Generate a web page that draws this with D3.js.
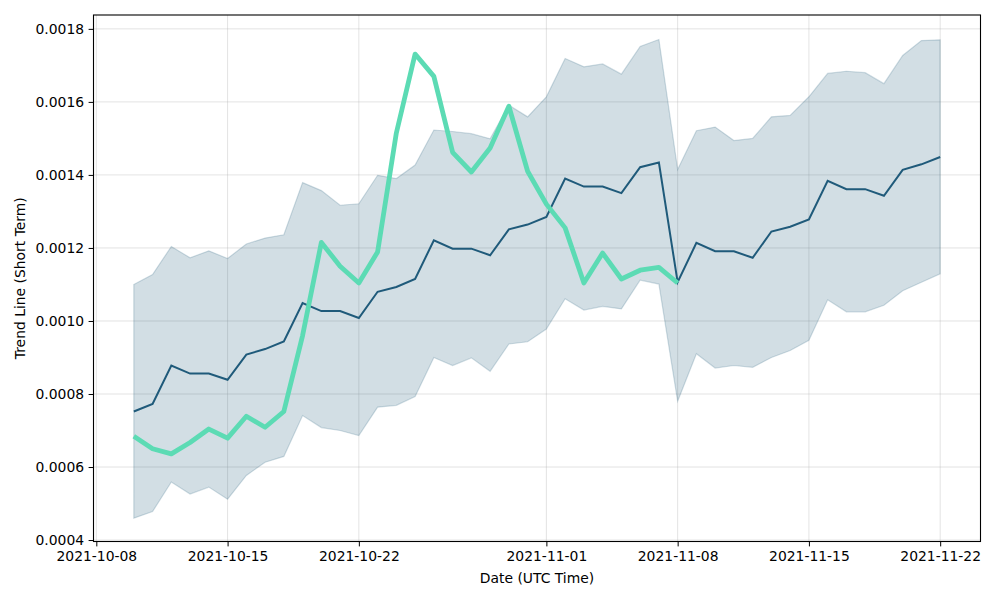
<!DOCTYPE html>
<html>
<head>
<meta charset="utf-8">
<script src="https://cdn.jsdelivr.net/npm/d3@7"></script>
<style>
  body { margin: 0; background: #fff; }
  text { font-family: "DejaVu Sans", sans-serif; }
</style>
</head>
<body>
<div id="chart"></div>
<script>
// daily values from 2021-10-10 to 2021-11-22
const startDate = "2021-10-10";
const trendMid = [
  0.000752, 0.000773, 0.000878, 0.000856, 0.000856, 0.000839, 0.000908, 0.000923, 0.000944, 0.001049,
  0.001027, 0.001027, 0.001008, 0.001080, 0.001093, 0.001115, 0.001221, 0.001198, 0.001198, 0.001180,
  0.001251, 0.001264, 0.001285, 0.001390, 0.001368, 0.001368, 0.001350, 0.001421, 0.001434, 0.001106,
  0.001214, 0.001191, 0.001191, 0.001173, 0.001245, 0.001258, 0.001278, 0.001384, 0.001361, 0.001361,
  0.001343, 0.001414, 0.001429, 0.001449
];
const trendUpper = [
  0.001100, 0.001127, 0.001204, 0.001173, 0.001192, 0.001171, 0.001211, 0.001227, 0.001236, 0.001379,
  0.001357, 0.001317, 0.001321, 0.001399, 0.001390, 0.001427, 0.001523, 0.001519, 0.001513, 0.001499,
  0.001591, 0.001559, 0.001614, 0.001719, 0.001696, 0.001704, 0.001676, 0.001752, 0.001771, 0.001415,
  0.001521, 0.001531, 0.001494, 0.001500, 0.001559, 0.001563, 0.001614, 0.001678, 0.001684, 0.001680,
  0.001650, 0.001727, 0.001768, 0.001770
];
const trendLower = [
  0.000460, 0.000478, 0.000559, 0.000526, 0.000545, 0.000512, 0.000577, 0.000613, 0.000629, 0.000741,
  0.000708, 0.000700, 0.000686, 0.000764, 0.000769, 0.000793, 0.000900, 0.000878, 0.000899, 0.000862,
  0.000937, 0.000943, 0.000978, 0.001061, 0.001030, 0.001040, 0.001033, 0.001112, 0.001101, 0.000780,
  0.000910, 0.000871, 0.000878, 0.000873, 0.000900, 0.000919, 0.000947, 0.001058, 0.001025, 0.001025,
  0.001043, 0.001083, 0.001106, 0.001129
];
// actual price, only until 2021-11-08
const actual = [
  0.000684, 0.000650, 0.000636, 0.000667, 0.000704, 0.000679, 0.000739, 0.000709, 0.000752, 0.000960,
  0.001215, 0.001150, 0.001104, 0.001189, 0.001515, 0.001731, 0.001670, 0.001462, 0.001408, 0.001474,
  0.001588, 0.001410, 0.001320, 0.001255, 0.001104, 0.001186, 0.001115, 0.001139, 0.001147, 0.001104
];
const tickDates = ["2021-10-08", "2021-10-15", "2021-10-22", "2021-11-01", "2021-11-08", "2021-11-15", "2021-11-22"];
const yTicks = [0.0004, 0.0006, 0.0008, 0.0010, 0.0012, 0.0014, 0.0016, 0.0018];

const width = 1000, height = 600;
const margin = {top: 15, right: 19.5, bottom: 58.5, left: 93.5};

const parse = d3.utcParse("%Y-%m-%d");
const t0 = parse(startDate);
const dates = trendMid.map((d, i) => d3.utcDay.offset(t0, i));

const svg = d3.select("#chart").append("svg")
  .attr("width", width)
  .attr("height", height);

// 5% padding on both sides like matplotlib
const span = dates[dates.length - 1] - dates[0];
const x = d3.scaleUtc()
  .domain([new Date(+dates[0] - span * 0.05), new Date(+dates[dates.length - 1] + span * 0.05)])
  .range([margin.left, width - margin.right]);

const y = d3.scaleLinear()
  .domain([0.000396, 0.001838])
  .range([height - margin.bottom, margin.top]);

const g = svg.append("g");

// grid
g.selectAll(".hgrid").data(yTicks).enter().append("line")
  .attr("x1", margin.left).attr("x2", width - margin.right)
  .attr("y1", d => y(d)).attr("y2", d => y(d))
  .attr("stroke", "#b0b0b0").attr("stroke-opacity", 0.35).attr("stroke-width", 1);
g.selectAll(".vgrid").data(tickDates).enter().append("line")
  .attr("x1", d => x(parse(d))).attr("x2", d => x(parse(d)))
  .attr("y1", margin.top).attr("y2", height - margin.bottom)
  .attr("stroke", "#b0b0b0").attr("stroke-opacity", 0.35).attr("stroke-width", 1);

// band
let area = d3.area()
  .x((d, i) => x(dates[i]))
  .y0((d, i) => y(trendLower[i]))
  .y1((d, i) => y(trendUpper[i]));
g.append("path")
  .datum(trendMid)
  .attr("d", area)
  .attr("fill", "#1f5a7a")
  .attr("fill-opacity", 0.2)
  .attr("stroke", "#1f5a7a")
  .attr("stroke-opacity", 0.2)
  .attr("stroke-width", 1.2);

// trend line
let line = d3.line()
  .x((d, i) => x(dates[i]))
  .y(d => y(d));
g.append("path")
  .datum(trendMid)
  .attr("d", line)
  .attr("fill", "none")
  .attr("stroke", "#1f5a7a")
  .attr("stroke-width", 2);

// actual price
g.append("path")
  .datum(actual)
  .attr("d", line)
  .attr("fill", "none")
  .attr("stroke", "#5cdbb4")
  .attr("stroke-width", 4.8)
  .attr("stroke-linejoin", "round");

// axes
const xAxis = d3.axisBottom(x)
  .tickValues(tickDates.map(parse))
  .tickFormat(d3.utcFormat("%Y-%m-%d"))
  .tickSizeOuter(0).tickSize(4.9).tickPadding(4.5);
const yAxis = d3.axisLeft(y)
  .tickValues(yTicks)
  .tickFormat(d3.format(".4f"))
  .tickSizeOuter(0).tickSize(4.9).tickPadding(4.5);

svg.append("g")
  .attr("transform", "translate(0," + (height - margin.bottom) + ")")
  .call(xAxis)
  .call(a => a.select(".domain").remove())
  .selectAll("text").style("font-size", "13.9px").attr("fill", "#000");
svg.append("g")
  .attr("transform", "translate(" + margin.left + ",0)")
  .call(yAxis)
  .call(a => a.select(".domain").remove())
  .selectAll("text").style("font-size", "13.9px").attr("fill", "#000");

// frame
svg.append("rect")
  .attr("x", margin.left).attr("y", margin.top)
  .attr("width", width - margin.left - margin.right)
  .attr("height", height - margin.top - margin.bottom)
  .attr("fill", "none").attr("stroke", "#000").attr("stroke-width", 1.1);

// labels
svg.append("text")
  .attr("x", (margin.left + width - margin.right) / 2)
  .attr("y", 583)
  .attr("text-anchor", "middle")
  .style("font-size", "13.9px")
  .text("Date (UTC Time)");
svg.append("text")
  .attr("transform", "translate(25," + ((margin.top + height - margin.bottom) / 2) + ") rotate(-90)")
  .attr("text-anchor", "middle")
  .style("font-size", "13.9px")
  .text("Trend Line (Short Term)");
</script>
</body>
</html>
